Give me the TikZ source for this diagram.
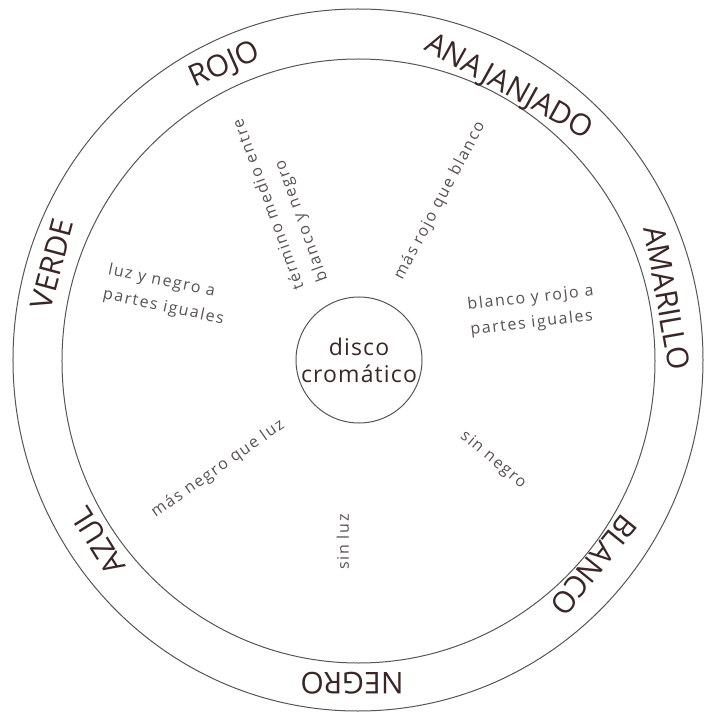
\documentclass[tikz,border=0pt]{standalone}
\usepackage{fontspec}
\setmainfont{Open Sans}
\newfontfamily\tenuefont{Open Sans}[LetterSpace=10]
\newfontfamily\discofont{Open Sans}[LetterSpace=5]
\usetikzlibrary{positioning}

\definecolor{tinta}{RGB}{58,38,36}
\definecolor{gris}{RGB}{88,82,82}
\definecolor{trazo}{RGB}{85,85,85}

\tikzset{
	color label/.style={text=tinta, font=\fontsize{30}{36}\selectfont, inner sep=0pt, text height=21.5pt, text depth=0pt},
	zona label/.style={text=gris, font=\tenuefont\fontsize{16}{25}\selectfont, inner sep=0pt, align=left},
}

\begin{document}
\begin{tikzpicture}[x=1pt, y=1pt]
			\useasboundingbox (-358,-352) rectangle (346,360);
			% 外圈
			\draw[trazo, line width=1pt] (0,0) ellipse [x radius=345, y radius=351];
			\draw[trazo, line width=1pt] (0.5,-1) ellipse [x radius=296.5, y radius=302];
			
			% 中心
			\node (disco) at (1,0) [circle, draw=trazo, line width=1pt, minimum size=126pt, inner sep=0pt, text=tinta, font=\discofont\fontsize{23}{27}\selectfont, align=center] {disco\\cromático};
			
			% 颜色名
			\node (rojo) at (-134,297) [color label, rotate=24] {ROJO};
			\node (anajanjado) at (152,275) [color label, rotate=-29] {ANAJANJADO};
			\node (amarillo) at (309,62) [color label, rotate=-80] {AMARILLO};
			\node (blanco) at (236,-205) [color label, rotate=-129] {BLANCO};
			\node (negro) at (-6,-323) [color label, rotate=180] {NEGRO};
			\node (azul) at (-260,-181) [color label, rotate=122] {AZUL};
			\node (verde) at (-306,96) [color label, rotate=75] {VERDE};
			
			% 区域说明
			\node (medio) at (-77,160) [zona label, rotate=110] {término medio entre\\blanco y negro};
			\node (masrojo) at (82,159) [zona label, rotate=62] {más rojo que blanco};
			\node (luznegro) at (-192,65) [zona label, rotate=-12] {luz y negro a\\partes iguales};
			\node (blancorojo) at (174,49) [zona label, rotate=6.5] {blanco y rojo a\\partes iguales};
			\node (masnegro) at (-140,-109) [zona label, rotate=35] {más negro que luz};
			\node (sinnegro) at (135,-100) [zona label, rotate=-40] {sin negro};
			\node (sinluz) at (-15,-182) [zona label, rotate=90] {sin luz};
\end{tikzpicture}
\end{document}
